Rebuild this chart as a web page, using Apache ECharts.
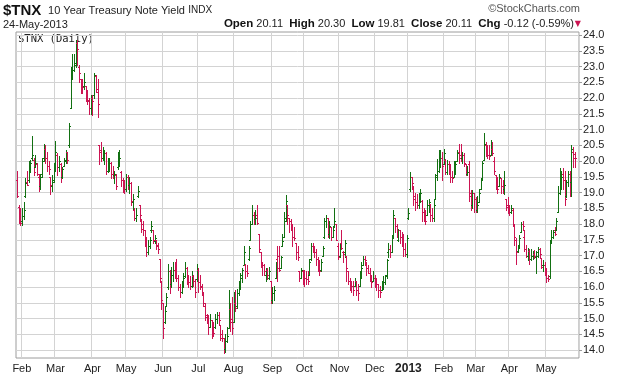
<!DOCTYPE html>
<html><head><meta charset="utf-8">
<script src="https://cdn.jsdelivr.net/npm/echarts@6/dist/echarts.min.js"></script>
<style>html,body{margin:0;padding:0;background:#fff}#c{width:620px;height:376px}</style>
</head><body><div id="c"></div>
<script>
// Daily OHLC bars of $TNX: [day, open, high, low, close]
const jan2012 = [[27,19.40,19.70,18.87,18.90],[30,18.55,18.60,18.05,18.40],[31,18.40,18.50,17.97,18.05]];
const feb2012 = [[1,18.10,18.50,17.97,18.25],[2,18.25,18.70,18.15,18.45],[3,18.90,19.45,18.85,19.30],[6,19.35,19.70,19.25,19.25],[7,19.40,20.00,19.35,19.85],[8,19.85,20.05,19.65,19.95],[9,20.10,20.80,20.05,20.20],[10,20.05,20.10,19.55,19.65],[13,19.80,20.20,19.80,19.95],[14,19.90,19.95,19.55,19.60],[15,19.50,19.60,19.05,19.20],[16,19.20,19.60,19.10,19.50],[17,19.60,20.10,19.50,20.00],[21,20.10,20.55,20.00,20.40],[22,20.40,20.50,19.95,20.10],[23,20.10,20.30,19.70,19.85],[24,19.85,20.00,19.60,19.75],[27,19.50,19.50,18.95,19.25],[28,19.20,19.55,19.05,19.35],[29,19.40,19.95,19.35,19.80]];
const mar2012 = [[1,19.80,20.65,19.70,20.30],[2,20.20,20.25,19.55,19.80],[5,19.80,20.15,19.70,20.00],[6,19.90,19.95,19.35,19.50],[7,19.50,19.80,19.45,19.75],[8,19.85,20.10,19.85,20.05],[9,20.00,20.35,19.95,20.30],[12,20.30,20.30,19.95,20.05],[13,20.50,21.20,20.45,21.10],[14,21.70,23.00,21.70,22.70],[15,22.70,23.40,22.60,22.90],[16,22.90,23.40,22.85,23.05],[19,23.10,23.85,23.00,23.80],[20,23.75,23.85,23.05,23.55],[21,23.00,23.05,22.50,22.80],[22,22.60,22.60,22.15,22.55],[23,22.55,22.60,22.15,22.35],[26,22.40,22.80,22.30,22.50],[27,22.40,22.40,21.90,21.95],[28,22.20,22.25,21.80,21.90],[29,21.95,22.00,21.50,21.70],[30,21.70,22.10,21.50,22.05]];
const apr2012 = [[2,22.00,22.10,21.45,21.90],[3,22.10,22.80,22.00,22.75],[4,22.70,22.75,22.20,22.30],[5,22.20,22.60,21.40,21.80],[9,20.50,20.50,19.90,20.30],[10,20.35,20.60,20.00,20.10],[11,20.10,20.45,20.05,20.20],[12,20.20,20.35,19.90,20.25],[13,20.25,20.30,19.60,19.70],[16,19.70,20.10,19.66,19.80],[17,19.80,20.10,19.70,19.95],[18,19.95,19.98,19.45,19.60],[19,19.60,19.85,19.45,19.55],[20,19.55,19.70,19.30,19.60],[23,19.55,19.60,19.13,19.20],[24,19.80,20.30,19.75,20.00],[25,20.00,20.35,19.85,20.10],[26,19.65,19.70,19.20,19.40],[27,19.40,19.45,19.03,19.20],[30,19.20,19.40,19.00,19.10]];
const may2012 = [[1,19.10,19.60,19.05,19.50],[2,19.50,19.55,19.10,19.25],[3,19.25,19.50,19.00,19.30],[4,19.30,19.35,18.60,18.75],[7,18.70,18.95,18.45,18.80],[8,18.45,18.50,18.13,18.20],[9,18.20,18.50,18.10,18.30],[10,18.90,19.20,18.85,19.05],[11,18.60,18.60,18.10,18.30],[14,18.10,18.15,17.75,17.85],[15,18.00,18.10,17.65,17.80],[16,17.80,17.80,17.30,17.60],[17,17.50,17.55,17.00,17.10],[18,17.10,17.50,17.05,17.30],[21,17.30,17.60,17.25,17.50],[22,17.80,18.10,17.75,17.95],[23,17.80,17.80,17.40,17.50],[24,17.45,17.65,17.40,17.55],[25,17.50,17.50,17.20,17.30],[29,17.35,17.40,17.07,17.20],[30,16.90,16.90,16.17,16.30],[31,16.20,16.20,15.30,15.60]];
const jun2012 = [[1,15.50,15.50,14.40,14.70],[4,14.90,15.40,14.85,15.25],[5,15.40,15.80,15.40,15.70],[6,16.00,16.75,15.95,16.50],[7,16.50,16.55,15.80,16.10],[8,16.10,16.65,16.00,16.40],[11,16.40,16.80,16.20,16.55],[12,16.55,16.80,16.30,16.45],[13,16.45,16.90,16.20,16.30],[14,16.30,16.40,15.90,16.00],[15,16.00,16.10,15.70,15.85],[18,15.85,16.20,15.80,16.05],[19,16.05,16.45,16.00,16.30],[20,16.35,16.80,16.33,16.60],[21,16.60,16.65,16.10,16.30],[22,16.30,16.40,16.00,16.15],[25,16.15,16.35,15.95,16.05],[26,16.05,16.50,16.00,16.35],[27,16.35,16.40,16.05,16.20],[28,16.20,16.25,15.70,15.85],[29,16.25,16.75,16.20,16.60]];
const jul2012 = [[2,16.55,16.60,15.85,16.15],[3,16.15,16.40,15.95,16.05],[5,16.00,16.10,15.75,15.85],[6,15.80,15.85,15.40,15.50],[9,15.40,15.50,14.95,15.05],[10,15.10,15.15,14.85,14.95],[11,15.00,15.10,14.50,14.75],[12,14.75,15.15,14.75,14.95],[13,14.95,14.95,14.40,14.60],[16,14.60,14.90,14.45,14.55],[17,14.75,15.15,14.70,15.00],[18,15.00,15.20,14.85,15.10],[19,15.10,15.20,14.80,14.95],[20,14.80,14.80,14.32,14.50],[23,14.40,14.65,14.30,14.40],[24,14.40,14.40,13.90,14.00],[25,14.05,14.50,13.95,14.30],[26,14.30,14.75,14.25,14.45],[27,14.70,15.90,14.70,15.50],[30,15.30,15.50,14.60,14.90],[31,15.00,15.70,14.50,14.70]];
const aug2012 = [[1,14.90,15.85,14.90,15.45],[2,15.50,15.90,15.25,15.35],[3,15.40,15.95,15.35,15.80],[6,15.80,16.20,15.75,16.00],[7,16.00,16.45,15.95,16.40],[8,16.30,16.60,16.15,16.55],[9,16.70,17.30,16.70,17.10],[10,16.70,16.75,16.30,16.50],[13,16.50,16.70,16.35,16.45],[14,16.90,17.30,16.85,17.25],[15,17.50,18.10,17.50,18.00],[16,18.00,18.60,18.00,18.30],[17,18.30,18.40,18.00,18.15],[20,18.15,18.45,18.00,18.20],[21,18.30,18.60,18.00,18.05],[22,17.70,17.70,17.10,17.20],[23,17.10,17.10,16.65,16.80],[24,16.80,16.80,16.40,16.70],[27,16.70,16.75,16.40,16.50],[28,16.40,16.60,16.20,16.55],[29,16.55,16.60,16.25,16.40],[30,16.30,16.65,16.25,16.50],[31,16.20,16.20,15.50,15.55]];
const sep2012 = [[4,15.60,16.00,15.50,15.80],[5,15.80,16.05,15.60,15.90],[6,16.30,16.80,16.30,16.70],[7,16.90,17.30,16.20,16.60],[10,17.00,17.30,16.50,16.55],[11,16.60,17.00,16.60,16.95],[12,17.30,17.70,17.30,17.45],[13,17.60,18.40,17.60,18.10],[14,18.20,18.92,18.10,18.75],[17,18.60,18.60,18.00,18.30],[18,18.20,18.20,17.75,18.10],[19,18.10,18.15,17.80,17.90],[20,17.90,18.00,17.30,17.60],[21,17.60,17.90,17.50,17.55],[24,17.40,17.40,16.90,17.10],[25,17.10,17.30,16.85,16.95],[26,16.50,16.50,16.20,16.30],[27,16.30,16.60,16.30,16.55],[28,16.50,16.55,16.10,16.35]];
const oct2012 = [[1,16.40,16.55,16.05,16.30],[2,16.30,16.50,16.10,16.25],[3,16.25,16.50,16.10,16.20],[4,16.40,16.90,16.40,16.80],[5,16.90,17.40,16.85,17.30],[8,17.30,17.40,17.10,17.25],[9,17.25,17.30,16.95,17.10],[10,17.10,17.20,16.70,16.90],[11,16.90,16.95,16.50,16.60],[12,16.60,16.85,16.40,16.50],[15,16.55,16.90,16.50,16.80],[16,17.00,17.30,17.00,17.25],[17,17.60,18.20,17.55,18.10],[18,18.10,18.30,17.90,18.20],[19,18.20,18.20,17.60,17.70],[22,17.70,18.10,17.55,17.95],[23,17.90,17.90,17.50,17.60],[24,17.60,17.95,17.60,17.80],[25,17.90,18.50,17.90,18.10],[26,18.00,18.00,17.50,17.50],[31,17.30,17.40,16.90,16.95]];
const nov2012 = [[1,17.00,17.40,16.95,17.30],[2,17.40,17.80,17.20,17.25],[5,17.10,17.15,16.80,17.05],[6,17.10,17.50,16.95,17.40],[7,17.00,17.00,16.20,16.60],[8,16.50,16.50,16.10,16.20],[9,16.20,16.30,15.90,16.10],[12,16.10,16.20,15.85,16.05],[13,16.05,16.20,15.75,15.90],[14,16.05,16.30,16.05,16.20],[15,16.20,16.20,15.75,15.90],[16,15.90,16.10,15.60,15.80],[19,16.05,16.50,16.05,16.40],[20,16.40,16.80,16.30,16.60],[21,16.70,17.00,16.70,16.90],[23,16.90,17.00,16.70,16.85],[26,16.80,16.80,16.40,16.60],[27,16.60,16.70,16.45,16.45],[28,16.45,16.60,16.20,16.35],[29,16.35,16.40,16.00,16.15],[30,16.20,16.50,16.20,16.30]];
const dec2012 = [[3,16.30,16.40,16.00,16.20],[4,16.20,16.30,15.90,16.10],[5,16.10,16.10,15.70,15.90],[6,15.90,16.05,15.70,15.85],[7,15.90,16.20,15.90,16.10],[10,16.10,16.35,15.95,16.15],[11,16.15,16.40,16.10,16.35],[12,16.40,16.90,16.30,16.85],[13,17.10,17.40,16.95,17.20],[14,17.20,17.35,16.95,17.10],[17,17.10,17.65,17.10,17.60],[18,17.60,18.45,17.55,18.30],[19,18.20,18.20,17.75,17.95],[20,17.95,18.00,17.60,17.75],[21,17.50,17.85,17.45,17.80],[24,17.80,17.80,17.40,17.60],[26,17.60,17.75,17.30,17.45],[27,17.45,17.70,17.00,17.20],[28,17.20,17.40,17.00,17.05],[31,17.05,17.65,16.95,17.55]];
const jan2013 = [[2,18.20,18.50,18.15,18.35],[3,19.10,19.66,19.05,19.50],[4,19.50,19.50,19.10,19.30],[7,19.20,19.20,18.60,18.80],[8,18.90,19.00,18.45,18.70],[9,18.70,18.95,18.50,18.60],[10,18.60,19.00,18.50,18.95],[11,18.90,19.10,18.70,19.00],[14,18.75,18.76,18.10,18.40],[15,18.40,18.50,18.10,18.20],[16,18.20,18.45,18.00,18.10],[17,18.30,18.76,18.30,18.60],[18,18.60,18.80,18.40,18.70],[22,18.65,18.65,18.10,18.30],[23,18.30,18.50,18.10,18.20],[24,18.20,18.76,18.10,18.60],[25,18.80,19.60,18.80,19.50],[28,19.55,20.08,19.40,19.70],[29,19.70,20.35,19.65,20.00],[30,20.00,20.35,19.80,20.10],[31,20.10,20.30,19.40,19.85]];
const feb2013 = [[1,19.90,20.40,19.90,20.25],[4,20.05,20.08,19.60,19.65],[5,19.65,20.05,19.60,19.90],[6,19.90,20.00,19.60,19.70],[7,19.70,19.90,19.35,19.50],[8,19.50,19.70,19.35,19.45],[11,19.50,20.00,19.50,19.70],[12,19.70,20.00,19.60,19.90],[13,20.00,20.35,20.00,20.25],[14,20.30,20.55,19.95,20.10],[15,20.20,20.55,20.00,20.05],[19,20.10,20.30,19.95,20.20],[20,20.20,20.25,19.85,19.95],[21,19.90,19.90,19.56,19.60],[22,19.60,19.85,19.55,19.65],[25,19.90,20.00,18.75,18.90],[26,19.00,19.08,18.45,18.60],[27,18.60,19.08,18.50,19.00],[28,19.00,19.00,18.40,18.80]];
const mar2013 = [[1,18.80,18.85,18.40,18.45],[4,18.45,18.90,18.40,18.60],[5,18.70,19.13,18.70,19.00],[6,19.10,19.45,19.10,19.40],[7,19.45,20.00,19.40,19.95],[8,20.05,20.88,20.03,20.55],[11,20.50,20.60,20.15,20.45],[12,20.45,20.50,20.10,20.20],[13,20.20,20.50,20.08,20.15],[14,20.20,20.67,20.19,20.40],[15,20.40,20.60,20.20,20.25],[18,20.00,20.14,19.60,19.70],[19,19.55,19.56,19.13,19.25],[20,19.25,19.50,19.00,19.10],[21,19.20,19.60,19.20,19.50],[22,19.45,19.45,19.00,19.20],[25,19.20,19.40,19.00,19.10],[26,19.10,19.70,18.97,19.25],[27,18.80,18.80,18.45,18.55],[28,18.60,18.87,18.34,18.50]];
const apr2013 = [[1,18.50,18.60,18.30,18.40],[2,18.40,18.60,18.35,18.50],[3,18.45,18.50,17.95,18.00],[4,18.00,18.00,17.33,17.60],[5,17.50,17.55,16.75,17.10],[8,17.15,17.33,17.12,17.30],[9,17.30,17.65,17.25,17.55],[10,17.76,18.07,17.76,18.00],[11,18.00,18.10,17.80,17.95],[12,17.60,17.80,17.15,17.20],[15,17.20,17.33,16.96,17.00],[16,17.00,17.25,16.85,17.15],[17,17.15,17.20,16.75,16.90],[18,16.90,17.20,16.86,17.00],[19,17.00,17.15,16.90,17.05],[22,17.05,17.17,16.91,17.00],[23,16.95,17.15,16.45,17.10],[24,17.00,17.28,16.96,17.20],[25,17.20,17.25,16.95,17.05],[26,16.91,16.91,16.60,16.65],[29,16.70,16.85,16.50,16.70],[30,16.70,16.80,16.40,16.60]];
const may2013 = [[1,16.60,16.60,16.17,16.30],[2,16.30,16.40,16.20,16.25],[3,16.35,17.45,16.30,17.40],[6,17.50,17.80,17.40,17.60],[7,17.60,17.80,17.55,17.75],[8,17.80,17.90,17.65,17.70],[9,17.80,18.20,17.80,18.10],[10,18.40,19.20,18.40,19.00],[13,19.00,19.77,18.97,19.20],[14,19.20,19.70,19.10,19.50],[15,19.60,19.77,19.13,19.40],[16,19.40,19.70,18.60,18.80],[17,18.90,19.40,18.87,19.35],[20,19.35,19.70,19.20,19.60],[21,19.60,19.70,18.90,19.35],[22,19.35,20.50,18.90,20.40],[23,20.30,20.45,19.80,20.23],[24,20.11,20.30,19.81,20.11]];

const monthAbbr = ['Jan','Feb','Mar','Apr','May','Jun','Jul','Aug','Sep','Oct','Nov','Dec'];
const yTicks = [14.0,14.5,15.0,15.5,16.0,16.5,17.0,17.5,18.0,18.5,19.0,19.5,20.0,20.5,21.0,21.5,22.0,22.5,23.0,23.5,24.0];

const months = [
  ['2012-01', jan2012], ['2012-02', feb2012], ['2012-03', mar2012], ['2012-04', apr2012],
  ['2012-05', may2012], ['2012-06', jun2012], ['2012-07', jul2012], ['2012-08', aug2012],
  ['2012-09', sep2012], ['2012-10', oct2012], ['2012-11', nov2012], ['2012-12', dec2012],
  ['2013-01', jan2013], ['2013-02', feb2013], ['2013-03', mar2013], ['2013-04', apr2013],
  ['2013-05', may2013]
];

const cats = [], bars = [], isFirst = [];
months.forEach(([ym, arr], mi) => {
  arr.forEach((b, j) => {
    isFirst.push(j === 0 && mi > 0);
    cats.push(ym + '-' + String(b[0]).padStart(2, '0'));
    bars.push([cats.length - 1, b[1], b[2], b[3], b[4]]);
  });
});
const closes = bars.map(b => b[4]);

const GREEN = '#127012', RED = '#cc1452';
const last = bars[bars.length - 1];
const prevClose = closes[closes.length - 2];
const chg = last[4] - prevClose;
const pct = chg / prevClose * 100;
const lastDate = new Date(cats[cats.length - 1] + 'T00:00:00');
const dateStr = String(lastDate.getDate()).padStart(2, '0') + '-' + monthAbbr[lastDate.getMonth()] + '-' + lastDate.getFullYear();

const chart = echarts.init(document.getElementById('c'), null, {renderer: 'canvas'});
const FONT = '"Liberation Sans", Arial, sans-serif';

chart.setOption({
  animation: false,
  backgroundColor: '#fff',
  textStyle: {fontFamily: FONT},
  grid: {left: 16, right: 41, top: 32, bottom: 18, show: true, borderColor: '#9c9c9c', borderWidth: 1, backgroundColor: '#fff'},
  xAxis: {
    type: 'category', data: cats, boundaryGap: true, max: cats.length + 1,
    axisLine: {show: false}, axisTick: {show: false},
    axisLabel: {
      interval: (i) => !!isFirst[i], margin: 5, color: '#222', fontSize: 11, fontFamily: FONT,
      formatter: (v) => {
        const m = +v.slice(5, 7);
        if (m === 1) return '{b|' + v.slice(0, 4) + '}';
        return monthAbbr[m - 1];
      },
      rich: {b: {fontWeight: 'bold', fontSize: 12, color: '#222', fontFamily: FONT}}
    },
    splitLine: {show: true, interval: (i) => !!isFirst[i], lineStyle: {color: '#d3d3d3', width: 1}}
  },
  yAxis: {
    type: 'value', position: 'right', min: 13.75, max: 24.1, scale: true,
    axisLine: {show: false},
    axisTick: {show: true, length: 3, customValues: yTicks, lineStyle: {color: '#9c9c9c'}},
    axisLabel: {customValues: yTicks, formatter: (v) => v.toFixed(1), margin: 4, color: '#222', fontSize: 11, fontFamily: FONT},
    splitLine: {show: true, lineStyle: {color: '#d3d3d3', width: 1}}
  },
  series: [{
    type: 'custom',
    data: bars,
    encode: {x: 0, y: [1, 2, 3, 4]},
    renderItem: (params, api) => {
      const i = api.value(0);
      const o = api.value(1), h = api.value(2), l = api.value(3), c = api.value(4);
      const pH = api.coord([i, h]), pL = api.coord([i, l]);
      const pO = api.coord([i, o]), pC = api.coord([i, c]);
      const x = Math.round(pH[0]) + 0.5;
      const prev = i > 0 ? closes[i - 1] : o;
      const col = c >= prev ? GREEN : RED;
      const st = {stroke: col, lineWidth: 1};
      const yo = Math.round(pO[1]) + 0.5, yc = Math.round(pC[1]) + 0.5;
      return {type: 'group', children: [
        {type: 'line', shape: {x1: x, y1: Math.round(pH[1]), x2: x, y2: Math.round(pL[1]) + 1}, style: st},
        {type: 'line', shape: {x1: x - 1.5, y1: yo, x2: x - 0.5, y2: yo}, style: st},
        {type: 'line', shape: {x1: x + 0.5, y1: yc, x2: x + 1.5, y2: yc}, style: st}
      ]};
    }
  }],
  graphic: [
    {type: 'text', left: 3, top: 3, style: {
      text: '{t|$TNX}  {n|10 Year Treasury Note Yield} {s|INDX}',
      rich: {
        t: {fontSize: 15, fontWeight: 'bold', fill: '#111', fontFamily: FONT},
        n: {fontSize: 11, fill: '#222', fontFamily: FONT},
        s: {fontSize: 10, fill: '#222', fontFamily: FONT}
      }}},
    {type: 'text', right: 40, top: 3, style: {text: '\u00A9StockCharts.com', fontSize: 11, fill: '#555', fontFamily: FONT}},
    {type: 'text', left: 3, top: 19, style: {text: dateStr, fontSize: 11, fill: '#222', fontFamily: FONT}},
    {type: 'text', right: 46, top: 18, style: {
      text: '{b|Open} ' + last[1].toFixed(2) + '  {b|High} ' + last[2].toFixed(2) + '  {b|Low} ' + last[3].toFixed(2) +
            '  {b|Close} ' + last[4].toFixed(2) + '  {b|Chg} ' + chg.toFixed(2) + ' (' + pct.toFixed(2) + '%)',
      fontSize: 11, fill: '#222', fontFamily: FONT,
      rich: {b: {fontSize: 11.5, fontWeight: 'bold', fill: '#111', fontFamily: FONT}}
    }},
    {type: 'text', right: 39, top: 20, style: {text: '\u25BC', fontSize: 8, fill: RED, fontFamily: 'DejaVu Sans'}},
    {type: 'text', left: 18, top: 34, style: {text: '$TNX (Daily)', fontSize: 10.5, fill: '#222', fontFamily: '"DejaVu Sans Mono", monospace'}}
  ]
});
</script>
</body></html>
